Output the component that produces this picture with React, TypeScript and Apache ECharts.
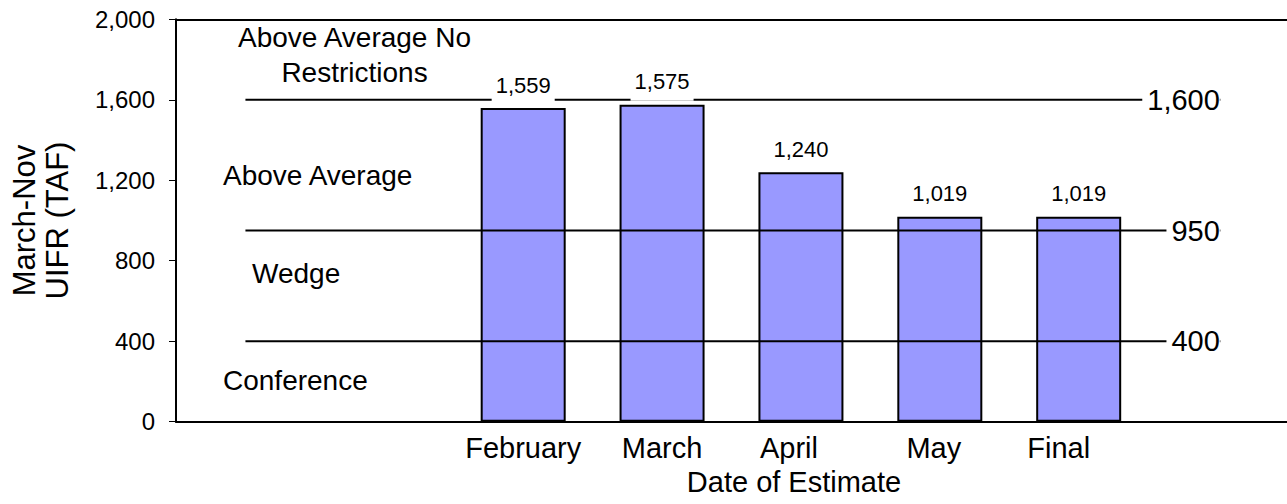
import React, { useEffect, useRef } from 'react';
import * as echarts from 'echarts';

// ---- data ----
const categories = ['', '', 'February', 'March', 'April', 'May', 'Final', ''];
const uifrValues: (number | null)[] = [null, null, 1559, 1575, 1240, 1019, 1019, null];
const thresholds = [1600, 950, 400];
const zoneLabels = ['Above Average No\nRestrictions', 'Above Average', 'Wedge', 'Conference'];
const yAxisTitle = 'March-Nov\nUIFR (TAF)';
const xAxisTitle = 'Date of Estimate';
const yMin = 0;
const yMax = 2000;
const yInterval = 400;

// layout: horizontal nudge (px, negative = left) of each category label
const labelNudge = [0, 0, 0, 0, -12, -6, -20, 0];

const FONT = '"Liberation Sans", Arial, Helvetica, sans-serif';
const fmt = (v: number) => Number(v).toLocaleString('en-US');

export default function App() {
  const ref = useRef<HTMLDivElement>(null);
  useEffect(() => {
    const chart = echarts.init(ref.current as HTMLDivElement, null, { renderer: 'svg' });
    const lineStart = 0.5;
    const lineEnd = 7.52;
    const txt = (text: string, x: number, y: number, align: string, vAlign: string, size: number, lh?: number) => ({
      type: 'text',
      x,
      y,
      z: 20,
      style: {
        text,
        fill: '#000',
        fontSize: size,
        fontFamily: FONT,
        align,
        textAlign: align,
        verticalAlign: vAlign,
        textVerticalAlign: vAlign,
        lineHeight: lh,
      },
    });
    const rich: Record<string, any> = {};
    labelNudge.forEach((n, i) => {
      rich['c' + i] = {
        fontSize: 29,
        color: '#000',
        fontFamily: FONT,
        padding: n < 0 ? [0, -2 * n, 0, 0] : [0, 0, 0, 2 * n],
      };
    });
    chart.setOption({
      animation: false,
      textStyle: { fontFamily: FONT, color: '#000' },
      grid: { left: 176, right: -2.6, top: 19.3, bottom: 82.3, containLabel: false },
      xAxis: [
        {
          type: 'category',
          data: categories,
          position: 'bottom',
          axisLine: { show: true, lineStyle: { color: '#000', width: 2 } },
          axisTick: { show: false },
          axisLabel: {
            interval: 0,
            fontSize: 29,
            color: '#000',
            margin: 12,
            fontFamily: FONT,
            formatter: (v: string, i: number) => (v ? `{c${i}|${v}}` : ''),
            rich,
          },
          splitLine: { show: false },
        },
        {
          type: 'value',
          min: 0,
          max: 8,
          position: 'top',
          axisLine: { show: true, onZero: false, lineStyle: { color: '#000', width: 2 } },
          axisTick: { show: false },
          axisLabel: { show: false },
          splitLine: { show: false },
        },
      ],
      yAxis: {
        type: 'value',
        min: yMin,
        max: yMax,
        interval: yInterval,
        axisLine: { show: true, lineStyle: { color: '#000', width: 2 } },
        axisTick: { show: true, length: 7, lineStyle: { color: '#000', width: 1 } },
        axisLabel: { fontSize: 24, color: '#000', margin: 21, fontFamily: FONT, formatter: (v: number) => fmt(v) },
        splitLine: { show: false },
        name: yAxisTitle,
        nameLocation: 'middle',
        nameGap: 102,
        nameTextStyle: { fontSize: 31, lineHeight: 33, color: '#000', fontFamily: FONT },
      },
      series: [
        {
          type: 'bar',
          xAxisIndex: 0,
          data: uifrValues,
          barWidth: 85,
          barGap: '-100%',
          itemStyle: { color: '#9999FF', borderColor: '#000', borderWidth: 2 },
          z: 2,
        },
        ...thresholds.map((t) => ({
          type: 'line',
          xAxisIndex: 1,
          data: [
            [lineStart, t],
            [lineEnd, t],
          ],
          symbol: 'none',
          lineStyle: { color: '#000', width: 2 },
          z: 3,
        })),
        {
          type: 'bar',
          xAxisIndex: 0,
          data: uifrValues,
          barWidth: 85,
          barGap: '-100%',
          itemStyle: { color: 'rgba(0,0,0,0)', borderWidth: 0 },
          label: {
            show: true,
            position: 'top',
            distance: 4,
            fontSize: 22,
            color: '#000',
            fontFamily: FONT,
            backgroundColor: '#fff',
            padding: [2, 4, 8, 4],
            formatter: (p: any) => fmt(p.value),
          },
          z: 5,
          silent: true,
        },
        {
          type: 'scatter',
          xAxisIndex: 1,
          data: thresholds.map((t) => [lineEnd, t]),
          symbolSize: 1,
          itemStyle: { color: 'rgba(0,0,0,0)', opacity: 1 },
          label: {
            show: true,
            position: 'left',
            distance: 0,
            fontSize: 29,
            color: '#000',
            opacity: 1,
            fontFamily: FONT,
            backgroundColor: '#fff',
            padding: [2, 0, 2, 5],
            formatter: (p: any) => fmt(p.value[1]),
          },
          z: 6,
          silent: true,
        },
      ],
      graphic: [
        txt(zoneLabels[0], 354.5, 20, 'center', 'top', 28, 35),
        txt(zoneLabels[1], 223, 175.3, 'left', 'middle', 28),
        txt(zoneLabels[2], 252, 273.6, 'left', 'middle', 28),
        txt(zoneLabels[3], 223, 380.3, 'left', 'middle', 28),
        txt(xAxisTitle, 794, 482, 'center', 'middle', 29),
      ],
    });
    return () => chart.dispose();
  }, []);
  return (
    <div
      ref={ref}
      style={{ position: 'fixed', left: 0, top: 0, width: 1287, height: 504, background: '#fff' }}
    />
  );
}
